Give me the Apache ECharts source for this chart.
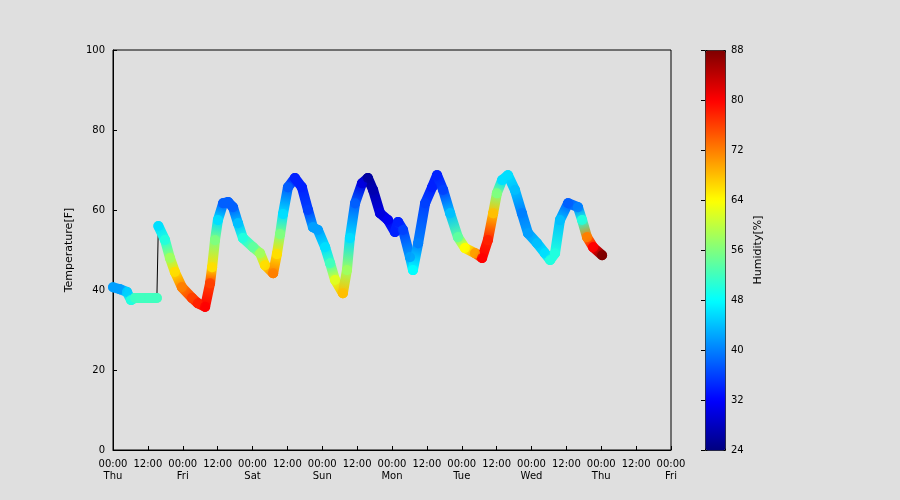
<!DOCTYPE html>
<html>
<head>
<meta charset="utf-8">
<script src="https://cdn.jsdelivr.net/npm/echarts@6/dist/echarts.min.js"></script>
<style>html,body{margin:0;background:#dfdfdf}#main{width:900px;height:500px}</style>
</head>
<body>
<div id="main"></div>
<script>
// hours since Thu 00:00
var hours = [0, 2.4, 4.8, 6.2, 7.6, 9.3, 12.7, 15.1, 15.6, 17.9, 19.6, 21.3, 23.7, 27.2, 29.2, 31.7,
    33.4, 34.1, 35.1, 36.1, 37.9, 39.6, 41.3, 43.0, 44.7, 48.2, 50.6, 52.3, 55.1, 56.4, 57.5, 58.5,
    60.2, 62.6, 65.0, 67.1, 68.8, 70.5, 73.0, 74.7, 76.4, 79.1, 80.5, 81.5, 83.3, 85.7, 87.7, 89.5,
    91.9, 94.6, 97.0, 98.1, 99.8, 102.2, 103.2, 105.0, 107.4, 109.8, 111.5, 113.6, 116.0, 118.7,
    121.1, 124.6, 127.0, 129.0, 130.8, 132.1, 133.9, 135.9, 138.3, 140.7, 142.8, 145.9, 148.6,
    150.4, 152.1, 153.8, 156.6, 160.0, 161.4, 163.1, 165.2, 168.3];
var temps = [40.7, 40.2, 39.5, 37.5, 38, 38, 38, 38, 56, 52.5, 48, 44.5, 40.7, 38, 36.7, 35.8,
    41.7, 45.7, 52.5, 57.5, 61.7, 62, 60.7, 56.7, 53, 50.7, 49.2, 46.2, 44.2, 49, 54, 59,
    65.7, 68, 65.7, 60, 55.7, 55, 50.7, 46.7, 42.5, 39.2, 45, 53, 61.7, 66.7, 68, 65,
    59.2, 57.5, 54.5, 57, 55, 48.2, 45, 51.7, 61.7, 65.7, 68.7, 65, 59.2, 53.2,
    50.5, 49.2, 48, 52.5, 59.2, 64.2, 67.5, 68.7, 65, 59.2, 54.2, 51.7, 49.2,
    47.5, 49.2, 57.5, 61.7, 60.7, 57.5, 53.2, 50.7, 48.7];
var hums = [42, 42, 45, 50, 52, 52, 52, 52, 46, 50, 58, 66, 72, 76, 78, 80,
    76, 66, 56, 46, 38, 38, 38, 44, 50, 54, 58, 66, 72, 66, 56, 46,
    38, 34, 34, 36, 42, 42, 46, 52, 62, 68, 58, 46, 38, 30, 26, 27,
    30, 31, 34, 34, 36, 42, 48, 40, 36, 34, 34, 36, 44, 54,
    64, 70, 80, 78, 68, 56, 46, 46, 44, 40, 42, 44, 46,
    50, 50, 44, 38, 40, 50, 72, 80, 88];
var days = ['Thu', 'Fri', 'Sat', 'Sun', 'Mon', 'Tue', 'Wed', 'Thu', 'Fri'];
var jet = ['#00007f', '#0000ff', '#007fff', '#00ffff', '#7fff7f', '#ffff00', '#ff7f00', '#ff0000', '#7f0000'];
var humMin = 24, humMax = 88;

var points = hours.map(function (h, i) { return [h, temps[i], hums[i]]; });
function jetColor(v) {
    return echarts.color.lerp((v - humMin) / (humMax - humMin), jet);
}

var chart = echarts.init(document.getElementById('main'));
var font = {fontFamily: 'DejaVu Sans', fontSize: 10, color: '#000'};
var tick = {inside: true, length: 4, lineStyle: {color: '#000'}};
chart.setOption({
    backgroundColor: '#dfdfdf',
    animation: false,
    grid: [
        {left: 113, right: 229, top: 50, bottom: 50, show: true, borderColor: '#000', borderWidth: 1},
        {left: 705, width: 20, top: 50, bottom: 50}
    ],
    xAxis: [{
        type: 'value', min: 0, max: 192, interval: 12,
        axisLine: {lineStyle: {color: '#000'}},
        axisTick: tick,
        splitLine: {show: false},
        axisLabel: Object.assign({
            formatter: function (v) {
                return v % 24 === 0 ? '00:00\n' + days[v / 24] : '12:00';
            }, lineHeight: 12
        }, font)
    }, {gridIndex: 1, type: 'value', show: false, min: 0, max: 1}],
    yAxis: [{
        type: 'value', min: 0, max: 100, interval: 20,
        name: 'Temperature[F]', nameLocation: 'middle', nameGap: 30,
        nameTextStyle: {fontFamily: 'DejaVu Sans', fontSize: 11, color: '#000'},
        axisLine: {lineStyle: {color: '#000'}},
        axisTick: tick,
        splitLine: {show: false},
        axisLabel: font
    }, {
        gridIndex: 1, type: 'value', min: 24, max: 88, interval: 8, position: 'right',
        name: 'Humidity[%]', nameLocation: 'middle', nameGap: 28, nameRotate: 90,
        nameTextStyle: {fontFamily: 'DejaVu Sans', fontSize: 11, color: '#000'},
        axisLine: {show: false},
        axisTick: tick,
        splitLine: {show: false},
        axisLabel: Object.assign({margin: 6}, font)
    }],
    visualMap: {
        type: 'continuous', min: humMin, max: humMax, dimension: 2, seriesIndex: [2],
        calculable: false, left: 705, top: 50, itemWidth: 20, itemHeight: 400,
        padding: 0, borderColor: '#000', borderWidth: 1, text: null,
        inRange: {color: jet}
    },
    series: [{
        type: 'line', data: points, symbol: 'none', z: 1,
        lineStyle: {color: '#000', width: 1}
    }, {
        type: 'custom', data: points, z: 2,
        renderItem: function (params, api) {
            var i = params.dataIndex;
            if (i >= points.length - 1 || i === 7) return;
            var a = api.coord([points[i][0], points[i][1]]);
            var b = api.coord([points[i + 1][0], points[i + 1][1]]);
            var grad = new echarts.graphic.LinearGradient(a[0], a[1], b[0], b[1], [
                {offset: 0, color: jetColor(points[i][2])},
                {offset: 1, color: jetColor(points[i + 1][2])}
            ], true);
            return {
                type: 'line',
                shape: {x1: a[0], y1: a[1], x2: b[0], y2: b[1]},
                style: {stroke: grad, lineWidth: 10, lineCap: 'round'}
            };
        }
    }, {
        type: 'scatter', data: points, symbolSize: 10, z: 3
    }]
});
</script>
</body>
</html>
